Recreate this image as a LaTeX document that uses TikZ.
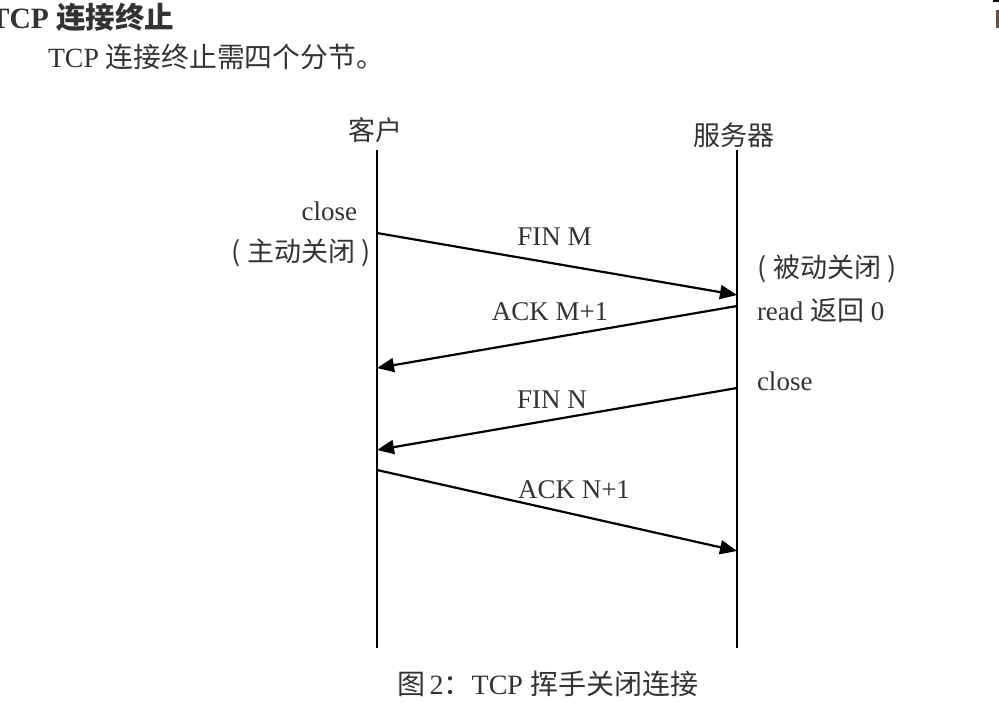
\documentclass[tikz,border=0pt]{standalone}
\usepackage{fontspec}
\setmainfont{Liberation Serif}
\newfontfamily\cjk{Noto Sans CJK SC}
\usetikzlibrary{arrows.meta}
\definecolor{txt}{HTML}{333333}
\definecolor{frag}{HTML}{6A5040}
\begin{document}
\begin{tikzpicture}[x=1pt,y=-1pt,
  every node/.style={inner sep=0pt, outer sep=0pt, text=txt, font=\fontsize{27}{32}\selectfont},
  msg/.style={line width=2.2pt, -{Triangle[length=17pt,width=14pt]}},
  life/.style={line width=2.2pt}]
\useasboundingbox (0,0) rectangle (999,702);
% header text
\node[font=\fontsize{29.5}{34}\selectfont\bfseries, anchor=base west] (title) at (-10,28) {TCP {\cjk 连接终止}};
\node[font=\fontsize{27.8}{32}\selectfont, anchor=base west] (intro) at (48,67) {TCP {\cjk 连接终止需四个分节。}};
\fill[frag] (996,10) rectangle (998.5,28);
\fill[black] (993,0) rectangle (999,1.5);
% participants
\node (client) at (375,130) {\cjk 客户};
\node (server) at (734,135) {\cjk 服务器};
\coordinate (ctop) at (377,150);
\coordinate (cbot) at (377,648);
\coordinate (stp) at (737,150);
\coordinate (sbot) at (737,648);
\draw[life] (ctop) -- (cbot);
\draw[life] (stp) -- (sbot);
% messages
\coordinate (m1s) at (377,233);
\coordinate (m1e) at (737,295);
\coordinate (m2s) at (737,306);
\coordinate (m2e) at (377,368);
\coordinate (m3s) at (737,388);
\coordinate (m3e) at (377,450);
\coordinate (m4s) at (377,470);
\coordinate (m4e) at (737,551);
\draw[msg] (m1s) -- (m1e);
\draw[msg] (m2s) -- (m2e);
\draw[msg] (m3s) -- (m3e);
\draw[msg] (m4s) -- (m4e);
% labels
\node[anchor=base] (l1) at (554.5,245) {FIN M};
\node[anchor=base] (l2) at (550,320) {ACK M+1};
\node[anchor=base] (l3) at (552,408) {FIN N};
\node[anchor=base] (l4) at (574,498) {ACK N+1};
\node[anchor=base east] (cclose) at (357,220) {close};
\node (cact) at (301,253) {\cjk ( 主动关闭 )};
\node (spas) at (827,269) {\cjk ( 被动关闭 )};
\node[anchor=base west] (sread) at (757,320) {read {\cjk 返回} 0};
\node[anchor=base west] (sclose) at (757,390) {close};
% caption
\node[font=\fontsize{28}{32}\selectfont, anchor=base west] (cap) at (397,694) {{\cjk 图}\,2{\cjk ：}TCP {\cjk 挥手关闭连接}};
\end{tikzpicture}
\end{document}
